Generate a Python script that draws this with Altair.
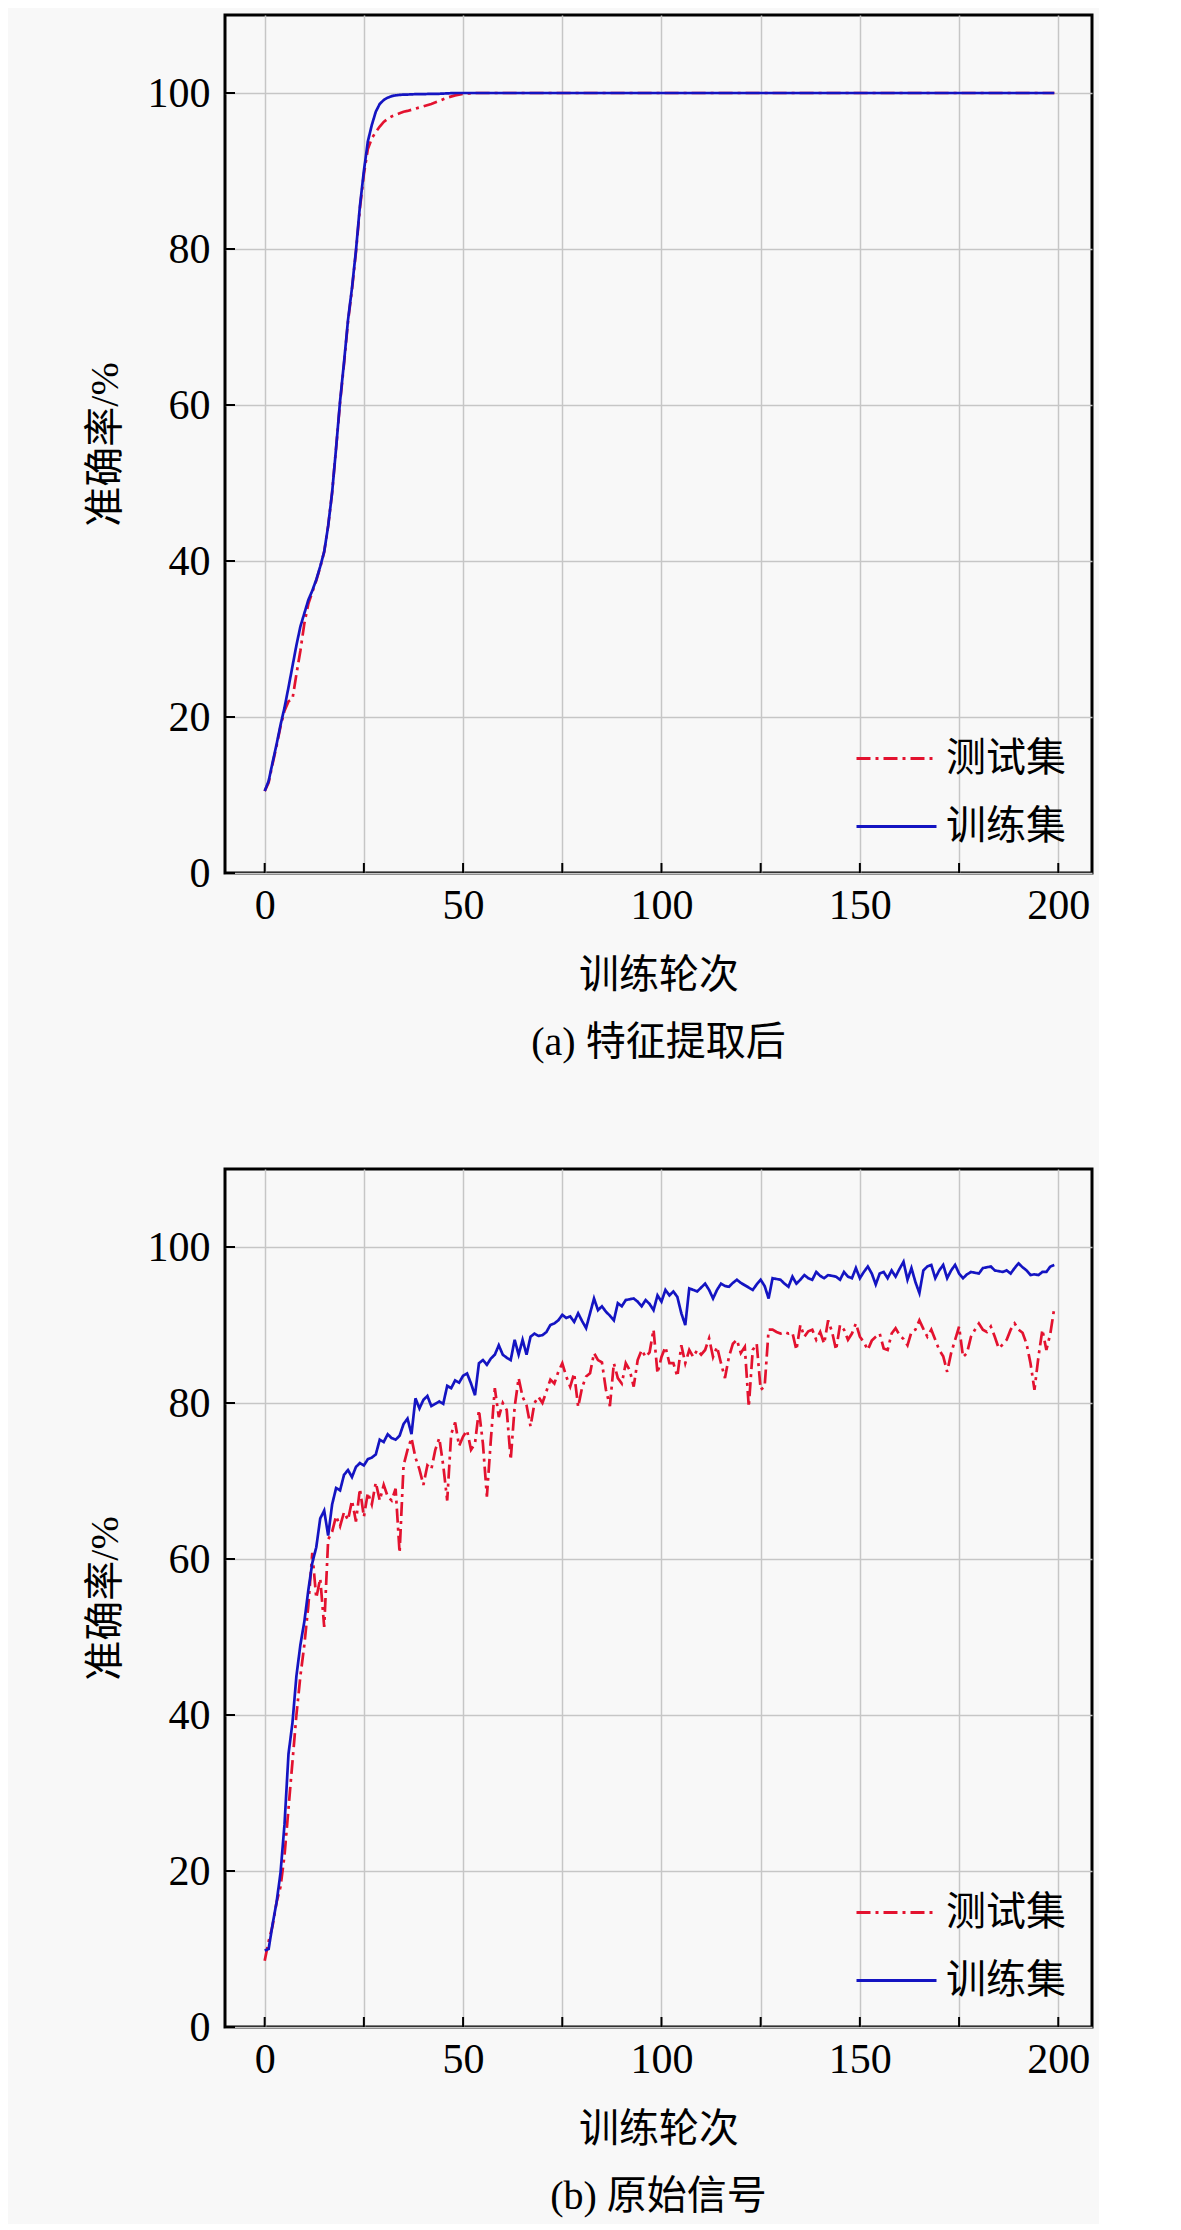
import altair as alt
import pandas as pd

SERIES = ["测试集", "训练集"]
COLORS = ["#e3122f", "#1414c2"]
DASHES = [[14, 5, 3, 5], [1, 0]]

X_TICKS = [0, 25, 50, 75, 100, 125, 150, 175, 200]
Y_TICKS = [0, 20, 40, 60, 80, 100]

X_TITLE = "训练轮次"
Y_TITLE = "准确率/%"
CAPTIONS = ["(a) 特征提取后", "(b) 原始信号"]

# ---- panel (a): after feature extraction ----
a_epochs = [0, 1, 2, 3, 4, 5, 6, 7, 8, 9, 10, 11, 12, 13, 14, 15, 16, 17, 18, 19,
            20, 21, 22, 23, 24, 25, 26, 27, 28, 29, 30, 31, 32, 33, 34, 35, 36,
            38, 40, 42, 44, 46, 48, 50, 53, 56, 60, 70, 80, 100, 120, 140, 160, 180, 199]
a_train = [10.5, 11.8, 14.2, 16.5, 19.0, 21.2, 23.8, 26.5, 29.2, 31.6,
           33.3, 35.0, 36.2, 37.6, 39.3, 41.2, 44.5, 48.8, 54.5, 60.5,
           65.5, 70.9, 75.0, 79.8, 85.5, 90.0, 93.8, 95.9, 97.6, 98.6,
           99.1, 99.4, 99.6, 99.7, 99.75, 99.8, 99.8,
           99.85, 99.85, 99.9, 99.9, 99.95, 100, 100, 100, 100, 100, 100, 100, 100, 100, 100, 100, 100, 100]
a_test = [10.5, 11.6, 14.0, 16.3, 18.8, 20.8, 22.0, 22.3, 25.5, 28.5,
          32.0, 34.5, 36.0, 37.5, 39.2, 41.2, 44.5, 48.8, 54.5, 60.3,
          65.3, 70.7, 74.8, 79.6, 85.2, 89.6, 92.8, 94.2, 95.0, 95.7,
          96.3, 96.7, 97.0, 97.2, 97.4, 97.6, 97.7,
          98.0, 98.3, 98.6, 99.0, 99.4, 99.7, 99.9, 100, 100, 100, 100, 100, 100, 100, 100, 100, 100, 100]

# ---- panel (b): raw signal, epochs 0..199 ----
b_test = [
    8.5, 11.0, 13.0, 16.0, 18.0, 22.0, 28.0, 34.0, 40.0, 45.0,
    49.0, 54.0, 60.8, 55.0, 57.5, 51.3, 62.5, 63.5, 65.5, 64.2,
    66.0, 65.0, 67.5, 64.8, 69.0, 65.4, 68.5, 67.0, 69.8, 67.5,
    69.5, 68.0, 67.5, 69.0, 60.8, 72.0, 74.0, 75.5, 73.0, 71.5,
    69.5, 72.0, 71.5, 74.0, 75.5, 72.0, 67.5, 76.0, 77.5, 74.5,
    75.7, 76.5, 74.0, 74.8, 79.1, 74.8, 68.0, 75.3, 81.9, 78.2,
    80.0, 79.1, 72.7, 79.5, 83.2, 80.8, 79.7, 77.0, 80.0, 80.8,
    80.0, 81.5, 83.0, 82.5, 84.0, 85.1, 83.4, 82.1, 83.8, 79.5,
    82.0, 83.4, 83.8, 86.4, 85.5, 85.2, 81.7, 79.6, 85.1, 83.2,
    82.5, 85.1, 84.2, 82.1, 85.5, 86.8, 85.9, 86.5, 89.4, 83.8,
    85.9, 87.2, 85.1, 85.1, 83.4, 87.4, 85.1, 86.8, 85.9, 86.8,
    86.2, 86.8, 88.3, 85.9, 87.2, 85.1, 83.2, 85.9, 87.6, 88.1,
    86.4, 87.2, 79.5, 86.8, 87.6, 81.7, 82.1, 89.4, 89.4, 89.1,
    88.9, 89.1, 88.9, 89.0, 86.8, 90.0, 88.5, 89.2, 89.4, 88.1,
    89.1, 87.6, 90.6, 89.1, 86.8, 90.0, 89.4, 88.1, 88.9, 90.2,
    88.5, 87.8, 86.8, 88.0, 88.5, 88.9, 87.0, 86.8, 88.9, 89.6,
    88.7, 88.2, 87.4, 89.1, 89.4, 90.6, 89.5, 88.5, 89.4, 88.1,
    86.8, 86.0, 84.0, 86.4, 88.1, 89.8, 85.9, 86.4, 88.5, 89.4,
    90.2, 89.4, 89.1, 89.8, 88.5, 87.0, 87.5, 88.1, 89.4, 90.2,
    89.4, 89.0, 87.6, 85.1, 81.7, 85.9, 89.4, 86.8, 88.9, 92.2,
]
b_train = [
    9.8, 10.0, 13.2, 16.0, 19.8, 26.0, 35.0, 39.0, 45.0, 49.0,
    52.0, 56.0, 59.5, 61.5, 65.2, 66.2, 63.0, 67.0, 69.1, 68.8,
    70.8, 71.4, 70.5, 71.8, 72.3, 72.0, 72.8, 73.0, 73.4, 75.3,
    75.0, 76.0, 75.5, 75.3, 75.8, 77.3, 78.0, 76.0, 80.6, 79.3,
    80.4, 80.9, 79.6, 79.9, 80.2, 79.9, 82.2, 81.9, 82.9, 82.6,
    83.5, 83.8, 82.5, 81.0, 85.1, 85.5, 84.9, 85.7, 86.2, 87.4,
    86.2, 85.8, 85.5, 88.1, 86.2, 88.1, 86.2, 88.5, 88.9, 88.6,
    88.7, 89.1, 90.0, 90.2, 90.6, 91.3, 90.9, 91.1, 90.4, 91.5,
    90.5, 89.6, 91.5, 93.4, 91.9, 92.4, 91.7, 91.2, 90.6, 92.8,
    92.4, 93.2, 93.3, 93.4, 93.0, 92.4, 93.2, 92.7, 91.9, 93.8,
    93.0, 94.5, 93.8, 94.3, 93.6, 91.5, 90.0, 94.7, 94.5, 94.3,
    94.8, 95.3, 94.5, 93.4, 94.5, 95.3, 95.0, 94.9, 95.4, 95.8,
    95.4, 95.1, 94.8, 94.5, 95.2, 95.8, 95.0, 93.4, 96.0, 95.9,
    95.8, 95.3, 94.9, 96.2, 95.3, 95.8, 96.4, 96.0, 95.8, 96.8,
    96.3, 96.0, 96.4, 96.3, 96.2, 95.8, 96.8, 96.2, 96.0, 97.3,
    96.0, 96.8, 97.5, 96.6, 95.2, 96.6, 96.8, 96.0, 97.0, 96.2,
    97.2, 98.1, 95.8, 97.3, 95.5, 94.1, 97.0, 97.5, 97.7, 96.0,
    97.0, 97.7, 96.0, 97.0, 97.7, 96.6, 96.0, 96.5, 96.8, 96.7,
    96.6, 97.3, 97.4, 97.5, 97.0, 96.9, 96.8, 97.0, 96.6, 97.3,
    97.9, 97.4, 97.0, 96.4, 96.5, 96.4, 96.8, 96.8, 97.5, 97.7,
]
b_epochs = list(range(len(b_train)))

SERIF = "Liberation Serif"
MIXED = "Liberation Serif, Noto Sans CJK SC"
BG = "#f8f8f8"
W, H = 867, 858

XS = alt.Scale(domain=[-10, 208.5], nice=False, zero=False)
YS = alt.Scale(domain=[0, 110], nice=False, zero=False)


def x_enc(field):
    return alt.X(field, type="quantitative", scale=XS,
                 axis=alt.Axis(values=X_TICKS, title=X_TITLE,
                               labelExpr="datum.value % 50 === 0 ? datum.label : ''",
                               labelPadding=12, titlePadding=29))


def y_enc(field):
    return alt.Y(field, type="quantitative", scale=YS,
                 axis=alt.Axis(values=Y_TICKS, title=Y_TITLE,
                               labelPadding=15, titlePadding=22))


def panel(epochs_test, test, epochs_train, train, caption):
    df = pd.concat([
        pd.DataFrame({"epoch": epochs_test, "acc": test, "series": SERIES[0], "k": 0}),
        pd.DataFrame({"epoch": epochs_train, "acc": train, "series": SERIES[1], "k": 1}),
    ], ignore_index=True)
    legend = alt.Legend(title=None, orient="bottom-right", offset=26, padding=0,
                        symbolType="stroke", symbolSize=6400, symbolStrokeWidth=2.8,
                        labelFont=MIXED, labelFontSize=40, labelColor="black",
                        labelOffset=8, rowPadding=6)
    lines = alt.Chart(df).mark_line(strokeWidth=2.7, clip=True).encode(
        x=x_enc("epoch"),
        y=y_enc("acc"),
        color=alt.Color("series:N", scale=alt.Scale(domain=SERIES, range=COLORS), legend=legend),
        strokeDash=alt.StrokeDash("series:N", scale=alt.Scale(domain=SERIES, range=DASHES), legend=legend),
        detail="k:N",
    )
    xt = alt.Chart(pd.DataFrame({"epoch": X_TICKS})).mark_rule(color="black", strokeWidth=2).encode(
        x=x_enc("epoch"), y=alt.value(H), y2=alt.value(H - 10))
    yt = alt.Chart(pd.DataFrame({"acc": Y_TICKS})).mark_rule(color="black", strokeWidth=2).encode(
        y=y_enc("acc"), x=alt.value(0), x2=alt.value(10))
    return alt.layer(lines, xt, yt).properties(
        width=W, height=H,
        title=alt.TitleParams(caption, orient="bottom", anchor="middle", offset=28,
                              font=MIXED, fontSize=40, fontWeight="normal", color="black"),
    )


pa = panel(a_epochs, a_test, a_epochs, a_train, CAPTIONS[0])
pb = panel(b_epochs, b_test, b_epochs, b_train, CAPTIONS[1])

chart = alt.vconcat(pa, pb, spacing=102).resolve_scale(
    color="independent", strokeDash="independent"
).resolve_legend(
    color="independent", strokeDash="independent"
).properties(
    background=BG, padding={"left": 75, "top": 5, "right": 5, "bottom": 5}
).configure_view(
    stroke="black", strokeWidth=3, fill=BG
).configure_axis(
    domain=False, ticks=False, grid=True, gridColor="#c6c6c6", gridWidth=1.5,
    labelFont=SERIF, labelFontSize=42, labelColor="black",
    titleFont=MIXED, titleFontSize=40, titleFontWeight="normal", titleColor="black",
)

chart.save("out.html", embed_options={"renderer": "svg", "actions": False})
